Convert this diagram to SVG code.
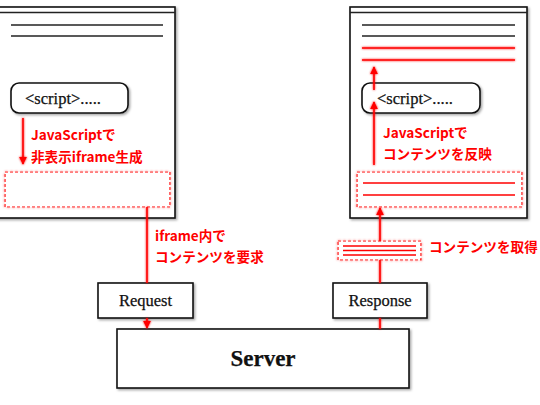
<svg xmlns="http://www.w3.org/2000/svg" width="540" height="405" viewBox="0 0 540 405">
<style>
.box{fill:#fff;stroke:#111;stroke-width:1.6}
.pill{fill:#fff;stroke:#111;stroke-width:1.6}
.ln{stroke:#222;stroke-width:1.3}
.rl{stroke:#f00;stroke-width:1.6}
.rd{fill:#fff;stroke:#f00;stroke-width:1.2;stroke-dasharray:3 2}
.rw{stroke:#f00;stroke-width:1.6;fill:none}
.ser{font-family:"Liberation Serif","DejaVu Serif",serif;fill:#111;stroke:#111;stroke-width:0.25}
.jp{font-family:"Noto Sans CJK JP",sans-serif;font-weight:bold;fill:#f00;font-size:13.6px}
</style>
<defs>
<filter id="sh" x="-10%" y="-10%" width="130%" height="140%">
<feDropShadow dx="1.5" dy="1.5" stdDeviation="1.2" flood-color="#000" flood-opacity="0.35"/>
</filter>
<filter id="gl" x="-10%" y="-30%" width="120%" height="160%">
<feGaussianBlur in="SourceGraphic" stdDeviation="1.2" result="b"/>
<feMerge><feMergeNode in="b"/><feMergeNode in="SourceGraphic"/></feMerge>
</filter>
<marker id="ah" viewBox="0 0 10 10" refX="9" refY="5" markerWidth="5" markerHeight="5" orient="auto-start-reverse">
<path d="M0,0 L10,5 L0,10 z" fill="#f00"/>
</marker>
</defs>

<g id="browser-left">
<rect class="box" x="-5" y="7" width="180" height="211" filter="url(#sh)"/>
<line class="ln" x1="-5" y1="12.5" x2="175" y2="12.5"/>
<line class="ln" x1="11" y1="25" x2="163" y2="25"/>
<line class="ln" x1="11" y1="36" x2="163" y2="36"/>
<g id="script-left">
<rect class="pill" x="11" y="83" width="117" height="30" rx="8" filter="url(#sh)"/>
<text class="ser" x="25" y="104" font-size="16.5">&lt;script&gt;.....</text>
</g>
<g id="iframe-left" filter="url(#gl)">
<rect class="rd" x="5" y="172" width="165" height="35"/>
</g>
</g>

<g id="browser-right">
<rect class="box" x="350" y="7" width="177" height="211" filter="url(#sh)"/>
<line class="ln" x1="350" y1="12.5" x2="527" y2="12.5"/>
<line class="ln" x1="362" y1="25" x2="515" y2="25"/>
<line class="ln" x1="362" y1="36" x2="515" y2="36"/>
<g filter="url(#gl)">
<line class="rl" x1="362" y1="48" x2="515" y2="48"/>
<line class="rl" x1="362" y1="60" x2="515" y2="60"/>
</g>
<g id="script-right">
<rect class="pill" x="362" y="83" width="118" height="30" rx="8" filter="url(#sh)"/>
<text class="ser" x="377" y="104" font-size="16.5">&lt;script&gt;.....</text>
</g>
<g id="iframe-right" filter="url(#gl)">
<rect class="rd" x="357" y="172" width="165" height="35"/>
<line class="rl" x1="363" y1="183" x2="515" y2="183"/>
<line class="rl" x1="363" y1="195" x2="515" y2="195"/>
</g>
</g>

<g id="content-chip" filter="url(#gl)">
<rect class="rd" x="338" y="241" width="83" height="19"/>
<line class="rl" x1="343" y1="246" x2="416" y2="246" stroke-width="1.2"/>
<line class="rl" x1="343" y1="250.5" x2="416" y2="250.5" stroke-width="1.2"/>
<line class="rl" x1="343" y1="255" x2="416" y2="255" stroke-width="1.2"/>
</g>

<g id="request">
<rect class="box" x="98" y="283" width="95" height="35" filter="url(#sh)"/>
<text class="ser" x="145.5" y="306" font-size="16.5" text-anchor="middle">Request</text>
</g>
<g id="response">
<rect class="box" x="333" y="283" width="94" height="35" filter="url(#sh)"/>
<text class="ser" x="380" y="306" font-size="16.5" text-anchor="middle">Response</text>
</g>
<g id="server">
<rect class="box" x="117" y="329" width="292" height="59" filter="url(#sh)"/>
<text class="ser" x="263" y="366" font-size="23" font-weight="bold" text-anchor="middle">Server</text>
</g>

<g id="connectors" filter="url(#gl)">
<line class="rw" x1="23" y1="118" x2="23" y2="164" marker-end="url(#ah)"/>
<line class="rw" x1="147" y1="207" x2="147" y2="283"/>
<line class="rw" x1="147" y1="318" x2="147" y2="328" marker-end="url(#ah)"/>
<line class="rw" x1="380" y1="329" x2="380" y2="318"/>
<line class="rw" x1="380" y1="283" x2="380" y2="260"/>
<line class="rw" x1="380" y1="241" x2="380" y2="208" marker-end="url(#ah)"/>
<line class="rw" x1="374" y1="165" x2="374" y2="102" marker-end="url(#ah)"/>
<line class="rw" x1="374" y1="90" x2="374" y2="67" marker-end="url(#ah)"/>
</g>

<g id="labels">
<text class="jp" x="31" y="140">JavaScriptで</text>
<text class="jp" x="31" y="162">非表示iframe生成</text>
<text class="jp" x="383" y="138">JavaScriptで</text>
<text class="jp" x="383" y="159">コンテンツを反映</text>
<text class="jp" x="155" y="241">iframe内で</text>
<text class="jp" x="155" y="262">コンテンツを要求</text>
<text class="jp" x="429" y="252">コンテンツを取得</text>
</g>
</svg>
